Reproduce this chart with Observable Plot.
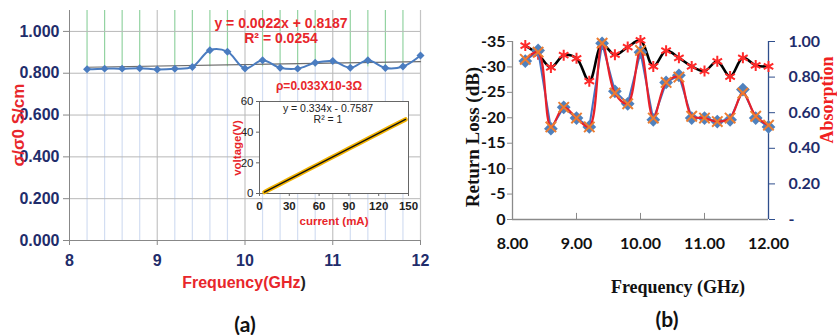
<!DOCTYPE html>
<html><head><meta charset="utf-8">
<script src="https://cdn.jsdelivr.net/npm/d3@7"></script>
<script src="https://cdn.jsdelivr.net/npm/@observablehq/plot@0.6"></script>
<style>
body{margin:0;background:#fff;}
#wrap{position:relative;width:837px;height:335px;overflow:hidden;font-family:"Liberation Sans",Arial,sans-serif;}
#wrap > svg{position:absolute;overflow:visible;}
.lbl{position:absolute;white-space:nowrap;transform:translate(-50%,-50%);line-height:1;}
.rot{transform:translate(-50%,-50%) rotate(-90deg);}
</style></head><body><div id="wrap"></div>
<script>
// ---------- panel (a) data ----------
const freq = [8.2, 8.4, 8.6, 8.8, 9.0, 9.2, 9.4, 9.6, 9.8, 10.0, 10.2, 10.4, 10.6, 10.8, 11.0, 11.2, 11.4, 11.6, 11.8, 12.0];
const sigmaRatio = [0.819, 0.822, 0.822, 0.824, 0.818, 0.821, 0.830, 0.910, 0.903, 0.823, 0.862, 0.826, 0.822, 0.850, 0.858, 0.826, 0.862, 0.825, 0.832, 0.885];
const xTicksA = [8, 9, 10, 11, 12];
const xMinorA = [8.2, 8.4, 8.6, 8.8, 9.2, 9.4, 9.6, 9.8, 10.2, 10.4, 10.6, 10.8, 11.2, 11.4, 11.6, 11.8];
const yTicksA = [0, 0.2, 0.4, 0.6, 0.8, 1.0];
// inset (I-V)
const current = [5, 10, 20, 30, 40, 50, 60, 70, 80, 90, 100, 110, 120, 130, 140, 147];
const voltage = [0.9, 2.6, 5.9, 9.3, 12.6, 16.0, 19.3, 22.6, 26.0, 29.3, 32.6, 36.0, 39.3, 42.7, 46.0, 48.3];
const xTicksInset = [0, 30, 60, 90, 120, 150];
const yTicksInset = [0, 20, 40, 60];
// ---------- panel (b) data ----------
const returnLoss = [-34.2, -32.5, -29.9, -32.3, -31.7, -27.2, -34.4, -32.4, -33.9, -35.2, -30.1, -33.2, -31.8, -30.1, -29.2, -31.1, -28.1, -31.8, -30.3, -30.1];
const absorptionA = [0.89, 0.95, 0.51, 0.63, 0.57, 0.52, 0.99, 0.72, 0.65, 0.94, 0.56, 0.77, 0.81, 0.57, 0.57, 0.55, 0.56, 0.73, 0.57, 0.52];
const absorptionB = [0.90, 0.94, 0.52, 0.63, 0.57, 0.52, 0.99, 0.71, 0.65, 0.95, 0.57, 0.77, 0.80, 0.58, 0.57, 0.55, 0.57, 0.71, 0.58, 0.53];
const xTicksB = [8, 9, 10, 11, 12];
const xTickLabelsB = ["8.00", "9.00", "10.00", "11.00", "12.00"];
const rlTicks = [0, -5, -10, -15, -20, -25, -30, -35];
const absTicks = [0, 0.2, 0.4, 0.6, 0.8, 1.0];
const absTickLabels = ["-", "0.20", "0.40", "0.60", "0.80", "1.00"];
const absToDb = -35; // right axis 1.00 aligned with left axis -35

const wrap = document.getElementById("wrap");
function place(svg, left, top) { svg.style.left = left + "px"; svg.style.top = top + "px"; wrap.appendChild(svg); }
function label(html, x, y, css, rot) {
  const d = document.createElement("div");
  d.className = "lbl" + (rot ? " rot" : "");
  d.innerHTML = html; d.style.left = x + "px"; d.style.top = y + "px";
  d.style.cssText += css; wrap.appendChild(d);
}

const dataA = freq.map((f, i) => ({f, v: sigmaRatio[i]}));
const navy = "#1f2d6b", redA = "#e8262b";
const narrowF = '"Liberation Sans Narrow","Arial Narrow","Liberation Sans",sans-serif';

const chartA = Plot.plot({
  width: 430, height: 335, marginLeft: 69, marginRight: 10, marginTop: 10, marginBottom: 95,
  x: {domain: [8, 12]}, y: {domain: [0, 1.1]},
  style: {background: "transparent"},
  marks: [
    Plot.ruleX(xMinorA, {y1: 0, y2: 0.83, stroke: "#d3def2", strokeWidth: 1.2}),
    Plot.ruleX(xMinorA, {y1: 0.83, y2: 1.1, stroke: "#93d3a2", strokeWidth: 1.2}),
    Plot.ruleX(xTicksA.slice(1), {y1: 0, y2: 1.1, stroke: "#c4c4c4", strokeWidth: 1.2}),
    Plot.ruleY(yTicksA.slice(1), {stroke: "#b8b8b8"}),
    Plot.linearRegressionY(dataA, {x: "f", y: "v", stroke: "#6e6e6e", strokeWidth: 1.2, ci: 0}),
    Plot.line(dataA, {x: "f", y: "v", curve: "catmull-rom", stroke: "#4a7cc0", strokeWidth: 2}),
    Plot.dot(dataA, {x: "f", y: "v", symbol: "diamond2", r: 3.6, fill: "#4a7cc0", stroke: "none"}),
    Plot.ruleX([8], {stroke: "#888"}),
    Plot.ruleY([0], {stroke: "#888"}),
    Plot.axisY({ticks: yTicksA, tickFormat: d3.format(".3f"), tickSize: 6, tickPadding: 4, stroke: "#888", fill: navy,
      fontSize: 16, fontWeight: "bold", fontFamily: narrowF, label: null}),
    Plot.axisX({ticks: xTicksA, tickFormat: d => String(d), tickSize: 5, tickPadding: 9, stroke: "#888", fill: navy,
      fontSize: 16, fontWeight: "bold", fontFamily: narrowF, label: null})
  ]
});
place(chartA, 0, 0);

const dataI = current.map((c, i) => ({c, v: voltage[i]}));
const inset = Plot.plot({
  width: 200, height: 145, marginLeft: 39, marginRight: 12, marginTop: 16, marginBottom: 37,
  x: {domain: [0, 150]}, y: {domain: [0, 60]},
  style: {background: "transparent"},
  marks: [
    Plot.frame({fill: "white", stroke: "#666"}),
    Plot.line(dataI, {x: "c", y: "v", stroke: "#f2b300", strokeWidth: 4.5}),
    Plot.linearRegressionY(dataI, {x: "c", y: "v", stroke: "#111", strokeWidth: 1.3, ci: 0}),
    Plot.axisY({ticks: yTicksInset, tickSize: 3, tickPadding: 3, stroke: "#666", fill: "#222", fontSize: 11.5, fontFamily: narrowF, label: null}),
    Plot.axisX({ticks: xTicksInset, tickSize: 3, tickPadding: 5, stroke: "#666", fill: "#222", fontSize: 11.5, fontWeight: "bold", fontFamily: narrowF, label: null})
  ]
});
place(inset, 220, 85);

const dataB = freq.map((f, i) => ({f, rl: returnLoss[i], a: absorptionA[i] * absToDb, b: absorptionB[i] * absToDb}));
const sansB = 'Lato,"Noto Sans",sans-serif';
const chartB = Plot.plot({
  width: 397, height: 335, marginLeft: 72, marginRight: 69, marginTop: 41, marginBottom: 116,
  x: {domain: [8, 12]}, y: {domain: [0, -35]},
  style: {background: "transparent"},
  marks: [
    Plot.ruleX([8], {stroke: "#8a8a8a", strokeWidth: 1.3}),
    Plot.ruleY([0], {stroke: "#8a8a8a", strokeWidth: 1.3}),
    Plot.ruleX(xTicksB.slice(1, 4), {y1: 0, y2: -1.2, stroke: "#8a8a8a"}),
    Plot.ruleX([12], {stroke: "#2f4e8c", strokeWidth: 1.3}),
    Plot.line(dataB, {x: "f", y: "rl", curve: "catmull-rom", stroke: "#000", strokeWidth: 2.6}),
    Plot.dot(dataB, {x: "f", y: "rl", symbol: "asterisk", r: 5.2, stroke: "#ff2a2a", strokeWidth: 2}),
    Plot.line(dataB, {x: "f", y: "a", stroke: "#4472c4", strokeWidth: 2}),
    Plot.dot(dataB, {x: "f", y: "a", symbol: "diamond2", r: 6.2, fill: "#4f81bd", stroke: "none"}),
    Plot.line(dataB, {x: "f", y: "b", curve: "catmull-rom", stroke: "#e8202a", strokeWidth: 2.2}),
    Plot.dot(dataB, {x: "f", y: "b", symbol: "times", r: 4.8, stroke: "#ed7d31", strokeWidth: 2}),
    Plot.axisY({anchor: "left", ticks: rlTicks, tickFormat: d => String(d), tickSize: 5, tickPadding: 2, stroke: "#8a8a8a", fill: "#111",
      fontSize: 16, fontWeight: "bold", fontFamily: sansB, label: null}),
    Plot.axisY({anchor: "right", ticks: absTicks.map(a => a * absToDb), tickFormat: (d, i) => absTickLabels[i], tickSize: 6, tickPadding: 14,
      stroke: "#2f4e8c", fill: navy, fontSize: 16, fontWeight: "bold", fontFamily: sansB, label: null}),
    Plot.axisX({ticks: xTicksB, tickFormat: (d, i) => xTickLabelsB[i], tickSize: 0, tickPadding: 18, fill: "#111",
      fontSize: 16, fontWeight: "bold", fontFamily: sansB, label: null})
  ]
});
place(chartB, 440, 0);

// ---------- text ----------
const nar = `font-family:${narrowF};font-weight:bold;`;
label("y = 0.0022x + 0.8187", 281, 23, nar + `font-size:14px;color:${redA};`);
label("R² = 0.0254", 281, 38, nar + `font-size:14px;color:${redA};`);
label("ρ=0.033X10-3Ω", 319, 86, nar + `font-size:12px;color:${redA};`);
label("σ/σ0 S/cm", 18, 125, `font-weight:bold;font-size:17px;color:${redA};`, true);
label(`Frequency(GHz<span style="color:#222">)</span>`, 244, 283, nar + `font-size:16px;color:${redA};`);
label("(a)", 245, 323, `font-family:Lato,sans-serif;font-weight:bold;font-size:21px;color:#111;`);
label("voltage(V)", 238, 148, nar + `font-size:11.5px;color:${redA};`, true);
label("current (mA)", 334, 222, nar + `font-size:11.5px;color:${redA};`);
label("y = 0.334x - 0.7587", 328, 108, `font-family:${narrowF};font-size:10.5px;color:#222;`);
label("R² = 1", 328, 119, `font-family:${narrowF};font-size:10.5px;color:#222;`);
label("Return Loss (dB)", 472, 137, `font-family:"Liberation Serif",serif;font-weight:bold;font-size:19px;color:#111;`, true);
label("Absorption", 827, 100, `font-family:"Liberation Serif",serif;font-weight:bold;font-size:18px;color:#f02020;`, true);
label("Frequency (GHz)", 678, 287, `font-family:"Liberation Serif",serif;font-weight:bold;font-size:18px;color:#111;`);
label("(b)", 667, 318, `font-family:Lato,sans-serif;font-weight:bold;font-size:21px;color:#111;`);
</script></body></html>
